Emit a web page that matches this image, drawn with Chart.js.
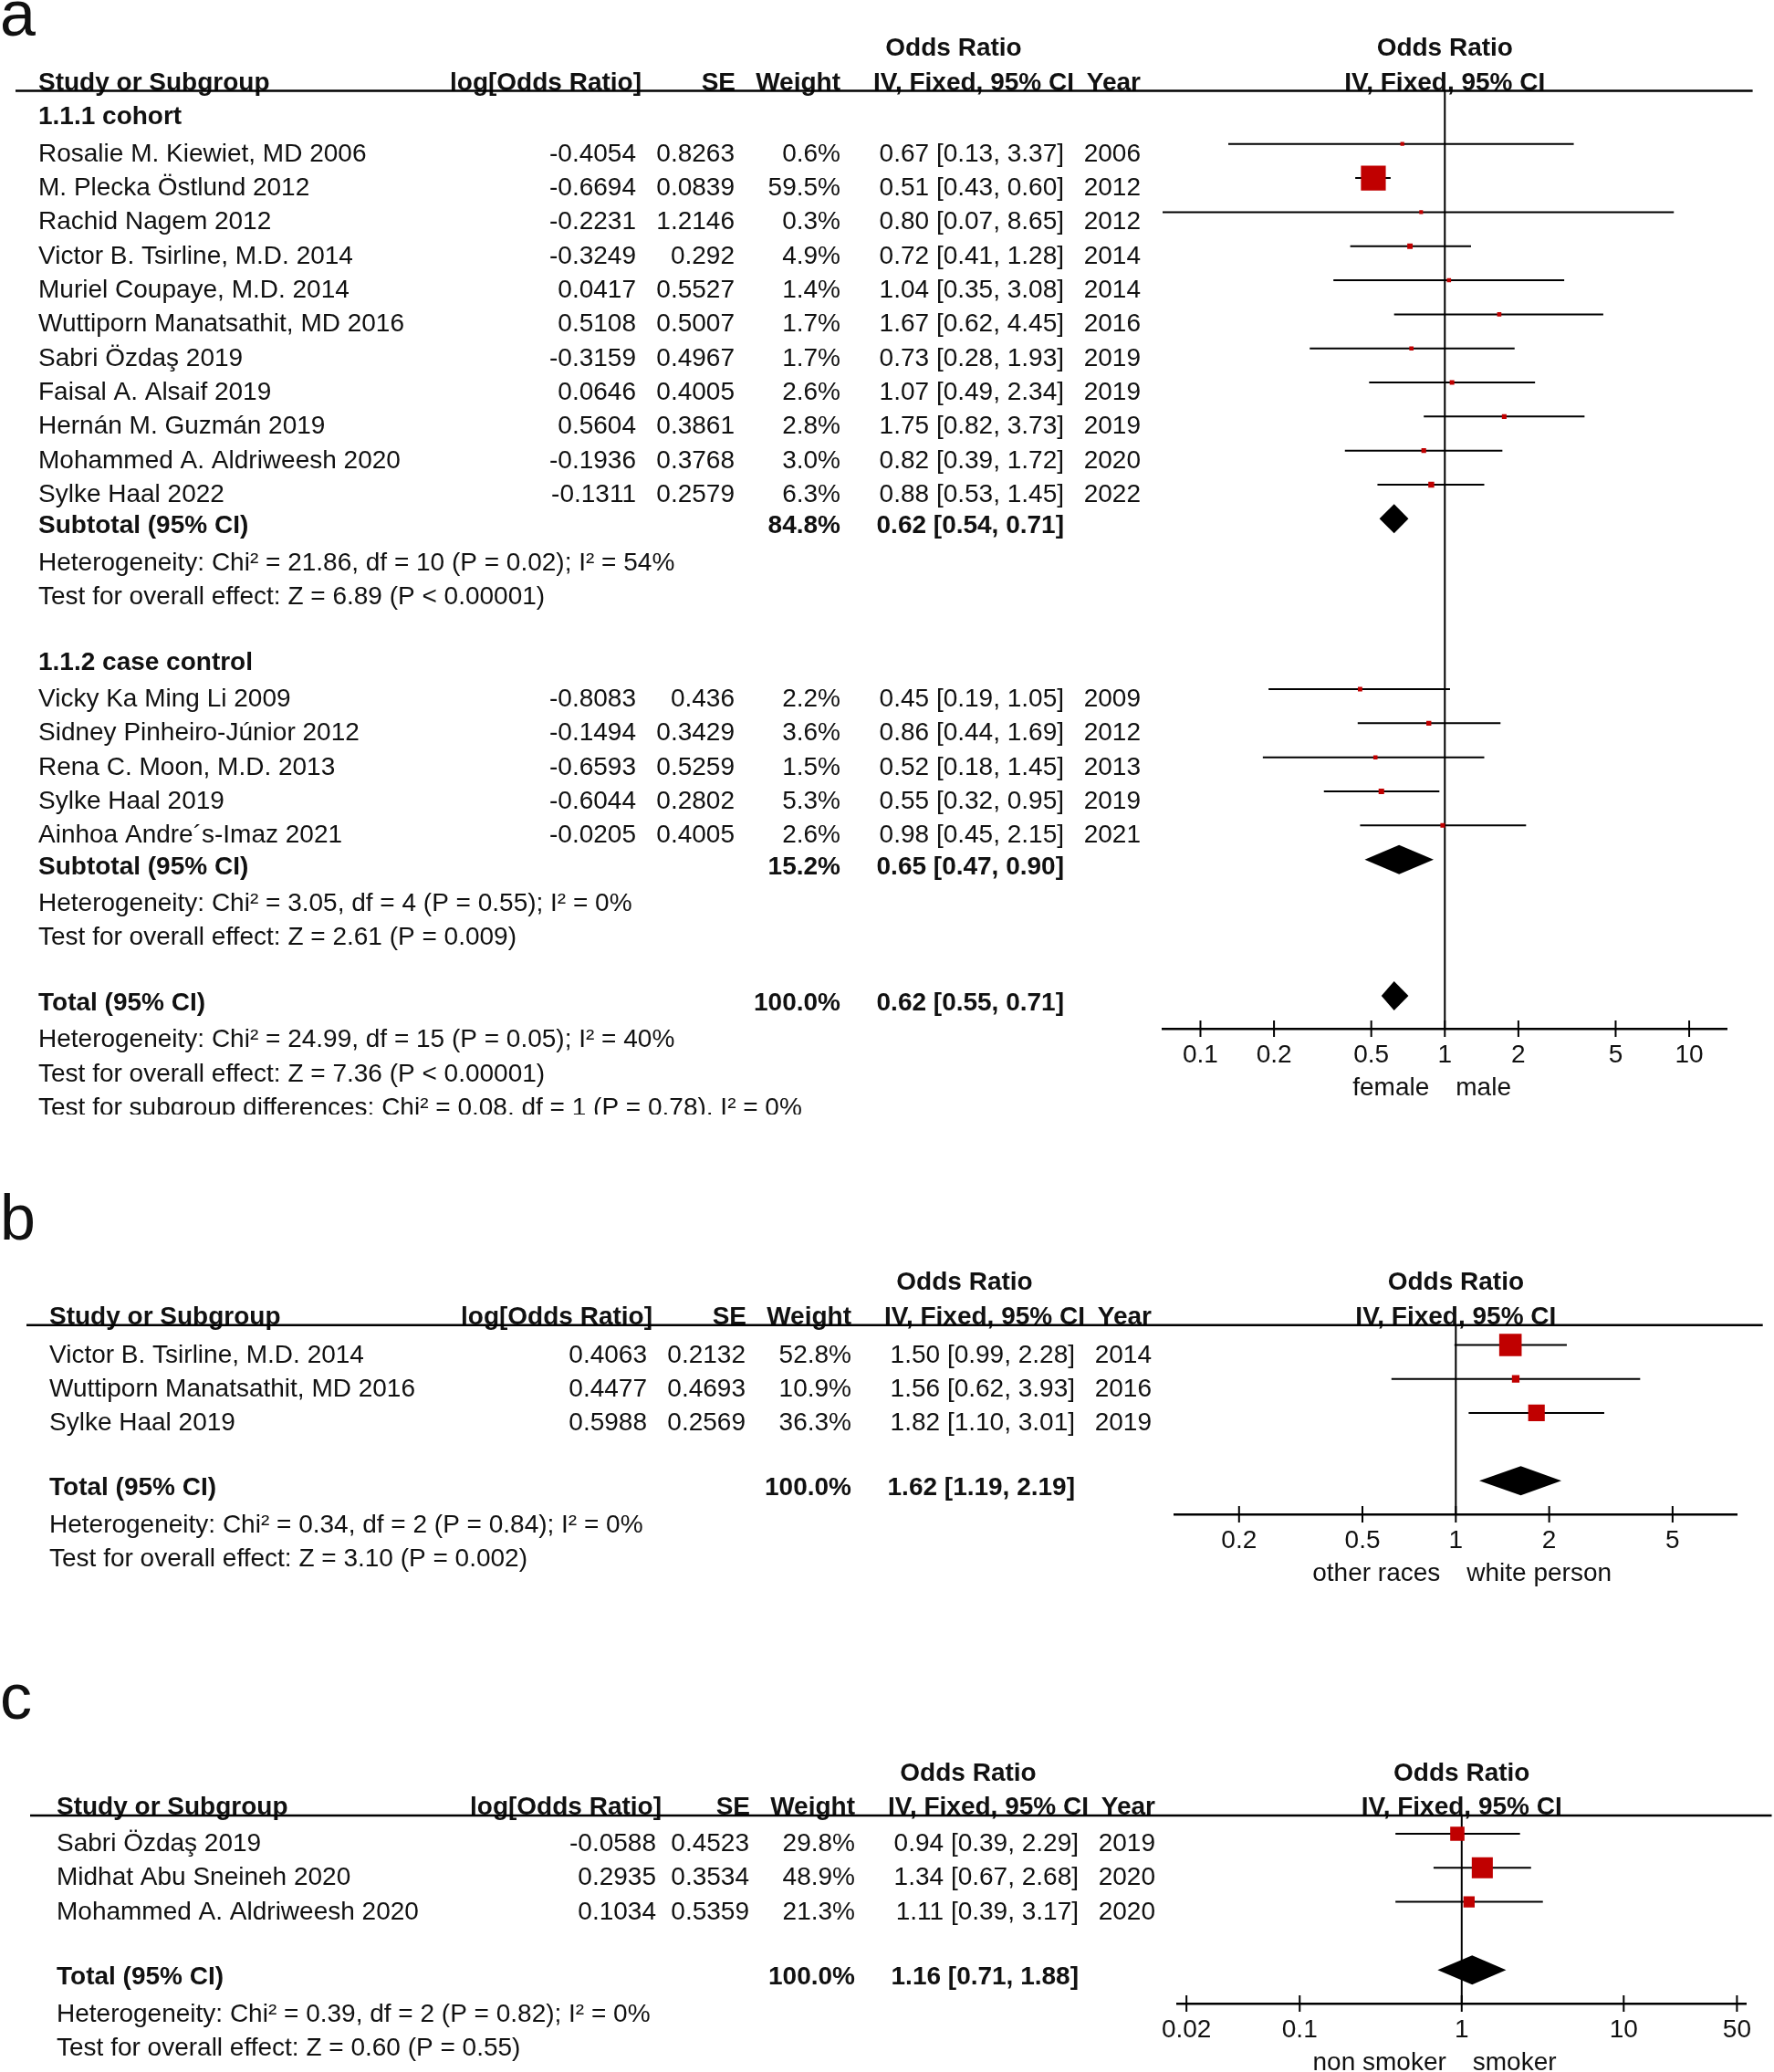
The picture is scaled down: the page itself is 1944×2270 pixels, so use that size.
<!DOCTYPE html>
<html>
<head>
<meta charset="utf-8">
<script src="https://cdn.jsdelivr.net/npm/chart.js@4.4.1/dist/chart.umd.min.js"></script>
<style>
  html, body { margin: 0; padding: 0; background: #fff; }
  body { width: 1944px; height: 2270px; position: relative; overflow: hidden; }
  canvas { position: absolute; left: 0; }
</style>
</head>
<body>
<canvas id="panelA"></canvas>
<canvas id="panelB"></canvas>
<canvas id="panelC"></canvas>
<script>
// ---- a: female vs male ----
const cohortStudies = ['Rosalie M. Kiewiet, MD 2006', 'M. Plecka Östlund 2012', 'Rachid Nagem 2012',
  'Victor B. Tsirline, M.D. 2014', 'Muriel Coupaye, M.D. 2014', 'Wuttiporn Manatsathit, MD 2016',
  'Sabri Özdaş 2019', 'Faisal A. Alsaif 2019', 'Hernán M. Guzmán 2019',
  'Mohammed A. Aldriweesh 2020', 'Sylke Haal 2022'];
const cohortLogOR = [-0.4054, -0.6694, -0.2231, -0.3249, 0.0417, 0.5108, -0.3159, 0.0646, 0.5604, -0.1936, -0.1311];
const cohortSE = [0.8263, 0.0839, 1.2146, 0.292, 0.5527, 0.5007, 0.4967, 0.4005, 0.3861, 0.3768, 0.2579];
const cohortWeight = [0.6, 59.5, 0.3, 4.9, 1.4, 1.7, 1.7, 2.6, 2.8, 3.0, 6.3];
const cohortOR = [0.67, 0.51, 0.80, 0.72, 1.04, 1.67, 0.73, 1.07, 1.75, 0.82, 0.88];
const cohortLow = [0.13, 0.43, 0.07, 0.41, 0.35, 0.62, 0.28, 0.49, 0.82, 0.39, 0.53];
const cohortHigh = [3.37, 0.60, 8.65, 1.28, 3.08, 4.45, 1.93, 2.34, 3.73, 1.72, 1.45];
const cohortYear = [2006, 2012, 2012, 2014, 2014, 2016, 2019, 2019, 2019, 2020, 2022];

const caseStudies = ['Vicky Ka Ming Li 2009', 'Sidney Pinheiro-Júnior 2012', 'Rena C. Moon, M.D. 2013',
  'Sylke Haal 2019', 'Ainhoa Andre´s-Imaz 2021'];
const caseLogOR = [-0.8083, -0.1494, -0.6593, -0.6044, -0.0205];
const caseSE = [0.436, 0.3429, 0.5259, 0.2802, 0.4005];
const caseWeight = [2.2, 3.6, 1.5, 5.3, 2.6];
const caseOR = [0.45, 0.86, 0.52, 0.55, 0.98];
const caseLow = [0.19, 0.44, 0.18, 0.32, 0.45];
const caseHigh = [1.05, 1.69, 1.45, 0.95, 2.15];
const caseYear = [2009, 2012, 2013, 2019, 2021];

// subtotal cohort, subtotal case control, total
const sexPooledWeight = [84.8, 15.2, 100.0];
const sexPooledOR = [0.62, 0.65, 0.62];
const sexPooledLow = [0.54, 0.47, 0.55];
const sexPooledHigh = [0.71, 0.90, 0.71];
const sexNotes = [
  ['Heterogeneity: Chi² = 21.86, df = 10 (P = 0.02); I² = 54%', 'Test for overall effect: Z = 6.89 (P < 0.00001)'],
  ['Heterogeneity: Chi² = 3.05, df = 4 (P = 0.55); I² = 0%', 'Test for overall effect: Z = 2.61 (P = 0.009)'],
  ['Heterogeneity: Chi² = 24.99, df = 15 (P = 0.05); I² = 40%', 'Test for overall effect: Z = 7.36 (P < 0.00001)',
    'Test for subgroup differences: Chi² = 0.08, df = 1 (P = 0.78), I² = 0%']
];
const sexTicks = [0.1, 0.2, 0.5, 1, 2, 5, 10];

// ---- b: other races vs white person ----
const raceStudies = ['Victor B. Tsirline, M.D. 2014', 'Wuttiporn Manatsathit, MD 2016', 'Sylke Haal 2019'];
const raceLogOR = [0.4063, 0.4477, 0.5988];
const raceSE = [0.2132, 0.4693, 0.2569];
const raceWeight = [52.8, 10.9, 36.3];
const raceOR = [1.50, 1.56, 1.82];
const raceLow = [0.99, 0.62, 1.10];
const raceHigh = [2.28, 3.93, 3.01];
const raceYear = [2014, 2016, 2019];
const racePooled = [100.0, 1.62, 1.19, 2.19];
const raceNotes = ['Heterogeneity: Chi² = 0.34, df = 2 (P = 0.84); I² = 0%', 'Test for overall effect: Z = 3.10 (P = 0.002)'];
const raceTicks = [0.2, 0.5, 1, 2, 5];

// ---- c: non smoker vs smoker ----
const smokeStudies = ['Sabri Özdaş 2019', 'Midhat Abu Sneineh 2020', 'Mohammed A. Aldriweesh 2020'];
const smokeLogOR = [-0.0588, 0.2935, 0.1034];
const smokeSE = [0.4523, 0.3534, 0.5359];
const smokeWeight = [29.8, 48.9, 21.3];
const smokeOR = [0.94, 1.34, 1.11];
const smokeLow = [0.39, 0.67, 0.39];
const smokeHigh = [2.29, 2.68, 3.17];
const smokeYear = [2019, 2020, 2020];
const smokePooled = [100.0, 1.16, 0.71, 1.88];
const smokeNotes = ['Heterogeneity: Chi² = 0.39, df = 2 (P = 0.82); I² = 0%', 'Test for overall effect: Z = 0.60 (P = 0.55)'];
const smokeTicks = [0.02, 0.1, 1, 10, 50];

const FONT = "'Liberation Sans', Arial, sans-serif";
const BOX_RED = '#C00000';
const COL = { name: 42, log: 697, se: 805, weight: 921, ci: 1166, year: 1250,
  logHead: 703, seHead: 806, ivHead: 957, orTitle: 1045 };

// row builders
function addStudies(rows, names, logOr, se, w, or, lo, hi, year) {
  names.forEach((name, i) => rows.push({
    kind: 'study', name, logOr: logOr[i], se: se[i], w: w[i], or: or[i], lo: lo[i], hi: hi[i], year: year[i]
  }));
}
function addPooled(rows, name, w, or, lo, hi) {
  rows.push({ kind: 'pooled', name, w, or, lo, hi });
}
function addNotes(rows, notes) {
  notes.forEach((n) => rows.push({ kind: 'note', name: n }));
}

const rowsA = [];
rowsA.push({ kind: 'group', name: '1.1.1 cohort' });
addStudies(rowsA, cohortStudies, cohortLogOR, cohortSE, cohortWeight, cohortOR, cohortLow, cohortHigh, cohortYear);
addPooled(rowsA, 'Subtotal (95% CI)', sexPooledWeight[0], sexPooledOR[0], sexPooledLow[0], sexPooledHigh[0]);
addNotes(rowsA, sexNotes[0]);
rowsA.push({ kind: 'gap' });
rowsA.push({ kind: 'group', name: '1.1.2 case control' });
addStudies(rowsA, caseStudies, caseLogOR, caseSE, caseWeight, caseOR, caseLow, caseHigh, caseYear);
addPooled(rowsA, 'Subtotal (95% CI)', sexPooledWeight[1], sexPooledOR[1], sexPooledLow[1], sexPooledHigh[1]);
addNotes(rowsA, sexNotes[1]);
rowsA.push({ kind: 'gap' });
addPooled(rowsA, 'Total (95% CI)', sexPooledWeight[2], sexPooledOR[2], sexPooledLow[2], sexPooledHigh[2]);
addNotes(rowsA, sexNotes[2]);

const rowsB = [];
addStudies(rowsB, raceStudies, raceLogOR, raceSE, raceWeight, raceOR, raceLow, raceHigh, raceYear);
rowsB.push({ kind: 'gap' });
addPooled(rowsB, 'Total (95% CI)', ...racePooled);
addNotes(rowsB, raceNotes);

const rowsC = [];
addStudies(rowsC, smokeStudies, smokeLogOR, smokeSE, smokeWeight, smokeOR, smokeLow, smokeHigh, smokeYear);
rowsC.push({ kind: 'gap' });
addPooled(rowsC, 'Total (95% CI)', ...smokePooled);
addNotes(rowsC, smokeNotes);

// page geometry of each panel
const panels = [
  { id: 'panelA', letter: 'a', top: 0, height: 1221, letterBase: 39, dx: 0, nameDx: 0, logDx: 0,
    lineY: 99.5, axisY: 1127, plotLeft: 1274, plotRight: 1892.6, row0: 120.4, rowH: 37.33,
    xMin: 0.07, xMax: 14.29, ticks: sexTicks, rows: rowsA, captions: ['female', 'male'] },
  { id: 'panelB', letter: 'b', top: 1280, height: 480, letterBase: 1358, dx: 12, nameDx: 0, logDx: 0,
    lineY: 1451.7, axisY: 1659, plotLeft: 1287, plotRight: 1903.7, row0: 1473.5, rowH: 37.2,
    xMin: 0.1238, xMax: 8.08, ticks: raceTicks, rows: rowsB, captions: ['other races', 'white person'] },
  { id: 'panelC', letter: 'c', top: 1800, height: 470, letterBase: 1883, dx: 16, nameDx: 4, logDx: 6,
    lineY: 1989, axisY: 2195, plotLeft: 1290, plotRight: 1913.5, row0: 2009, rowH: 37.3,
    xMin: 0.01753, xMax: 57.0, ticks: smokeTicks, rows: rowsC, captions: ['non smoker', 'smoker']
  }
];

function put(ctx, str, x, y, align, bold, size) {
  ctx.font = (bold ? 'bold ' : '') + (size || 28) + 'px ' + FONT;
  ctx.textAlign = align;
  ctx.fillText(str, x, y);
}

function ciText(r) {
  return r.or.toFixed(2) + ' [' + r.lo.toFixed(2) + ', ' + r.hi.toFixed(2) + ']';
}

const forestTable = {
  id: 'forestTable',
  afterDatasetsDraw(chart, args, opts) {
    const { ctx, scales: { x, y } } = chart;
    ctx.save();
    ctx.fillStyle = '#000';
    opts.panel.rows.forEach((r, i) => {
      if (r.kind !== 'pooled') return;
      const yc = y.getPixelForValue(i);
      ctx.beginPath();
      ctx.moveTo(x.getPixelForValue(r.lo), yc);
      ctx.lineTo(x.getPixelForValue(r.or), yc - 16);
      ctx.lineTo(x.getPixelForValue(r.hi), yc);
      ctx.lineTo(x.getPixelForValue(r.or), yc + 16);
      ctx.closePath();
      ctx.fill();
    });
    ctx.restore();
  },
  afterDraw(chart, args, opts) {
    const p = opts.panel;
    const { ctx, chartArea: area, scales: { x, y } } = chart;
    const dx = p.dx;
    const nameX = COL.name + dx + p.nameDx;
    const top = area.top;
    const mid = (area.left + area.right) / 2;
    ctx.save();
    ctx.fillStyle = '#111';
    ctx.textBaseline = 'alphabetic';

    put(ctx, p.letter, 0, p.letterBase - p.top, 'left', false, 70);

    // column headings
    put(ctx, 'Odds Ratio', COL.orTitle + dx, top - 38.5, 'center', true);
    put(ctx, 'Odds Ratio', mid, top - 38.5, 'center', true);
    put(ctx, 'Study or Subgroup', nameX, top - 1, 'left', true);
    put(ctx, 'log[Odds Ratio]', COL.logHead + dx + p.logDx, top - 1, 'right', true);
    put(ctx, 'SE', COL.seHead + dx, top - 1, 'right', true);
    put(ctx, 'Weight', COL.weight + dx, top - 1, 'right', true);
    put(ctx, 'IV, Fixed, 95% CI', COL.ivHead + dx, top - 1, 'left', true);
    put(ctx, 'Year', COL.year + dx, top - 1, 'right', true);
    put(ctx, 'IV, Fixed, 95% CI', mid, top - 1, 'center', true);

    ctx.strokeStyle = '#000';
    ctx.lineWidth = 2.5;
    ctx.beginPath();
    ctx.moveTo(dx + 17, top);
    ctx.lineTo(area.right + 28, top);
    ctx.stroke();

    // table rows
    p.rows.forEach((r, i) => {
      const yy = y.getPixelForValue(i);
      if (r.kind === 'study') {
        const b = yy + 19;
        put(ctx, r.name, nameX, b, 'left', false);
        put(ctx, String(r.logOr), COL.log + dx + p.logDx, b, 'right', false);
        put(ctx, String(r.se), COL.se + dx, b, 'right', false);
        put(ctx, r.w.toFixed(1) + '%', COL.weight + dx, b, 'right', false);
        put(ctx, ciText(r), COL.ci + dx, b, 'right', false);
        put(ctx, String(r.year), COL.year + dx, b, 'right', false);
      } else if (r.kind === 'pooled') {
        const b = yy + 16;
        put(ctx, r.name, nameX, b, 'left', true);
        put(ctx, r.w.toFixed(1) + '%', COL.weight + dx, b, 'right', true);
        put(ctx, ciText(r), COL.ci + dx, b, 'right', true);
      } else if (r.kind === 'group') {
        put(ctx, r.name, nameX, yy + 16, 'left', true);
      } else if (r.kind === 'note') {
        put(ctx, r.name, nameX, yy + 19, 'left', false);
      }
    });

    // tick marks across the axis
    ctx.lineWidth = 2;
    p.ticks.forEach((v) => {
      const px = x.getPixelForValue(v);
      ctx.beginPath();
      ctx.moveTo(px, area.bottom - 9);
      ctx.lineTo(px, area.bottom + 9);
      ctx.stroke();
    });

    const ref = x.getPixelForValue(1);
    put(ctx, p.captions[0], ref - 17, area.bottom + 73, 'right', false);
    put(ctx, p.captions[1], ref + 12, area.bottom + 73, 'left', false);
    ctx.restore();
  }
};

function boxRadius(w) {
  return (4 + 0.39 * w) / Math.SQRT2;
}

function buildChart(p) {
  const canvas = document.getElementById(p.id);
  canvas.width = 1944;
  canvas.height = p.height;
  canvas.style.top = p.top + 'px';

  const studies = p.rows.map((r, i) => ({ r, i })).filter((o) => o.r.kind === 'study');
  const yMin = (p.lineY - p.row0) / p.rowH;
  const yMax = (p.axisY - p.row0) / p.rowH;
  const axisH = 60;

  return new Chart(canvas, {
    type: 'scatter',
    data: {
      datasets: [
        {
          label: 'boxes',
          data: studies.map((o) => ({ x: o.r.or, y: o.i })),
          pointStyle: 'rect',
          pointRadius: studies.map((o) => boxRadius(o.r.w)),
          pointBackgroundColor: BOX_RED,
          pointBorderWidth: 0,
          borderWidth: 0
        },
        {
          label: 'ci',
          data: studies.flatMap((o) => [
            { x: o.r.lo, y: o.i }, { x: o.r.hi, y: o.i }, { x: o.r.hi, y: null }
          ]),
          showLine: true,
          spanGaps: false,
          borderColor: '#000',
          borderWidth: 2,
          pointRadius: 0
        },
        {
          label: 'no effect',
          data: [{ x: 1, y: yMin }, { x: 1, y: yMax }],
          showLine: true,
          borderColor: '#000',
          borderWidth: 2,
          pointRadius: 0
        }
      ]
    },
    options: {
      responsive: false,
      animation: false,
      devicePixelRatio: 1,
      layout: {
        padding: {
          left: p.plotLeft,
          right: 1944 - p.plotRight,
          top: p.lineY - p.top,
          bottom: p.height - (p.axisY - p.top) - axisH
        }
      },
      plugins: {
        legend: { display: false },
        tooltip: { enabled: false },
        forestTable: { panel: p }
      },
      scales: {
        x: {
          type: 'logarithmic',
          min: p.xMin,
          max: p.xMax,
          afterBuildTicks: (s) => { s.ticks = p.ticks.map((v) => ({ value: v })); },
          afterFit: (s) => { s.height = axisH; },
          grid: { display: false, drawTicks: false },
          border: { display: true, color: '#000', width: 2.5 },
          ticks: {
            autoSkip: false,
            maxRotation: 0,
            minRotation: 0,
            padding: 12,
            color: '#111',
            font: { family: FONT, size: 28 },
            callback: (v) => String(v)
          }
        },
        y: {
          type: 'linear',
          display: false,
          reverse: true,
          min: yMin,
          max: yMax
        }
      }
    },
    plugins: [forestTable]
  });
}

panels.forEach(buildChart);
</script>
</body>
</html>
